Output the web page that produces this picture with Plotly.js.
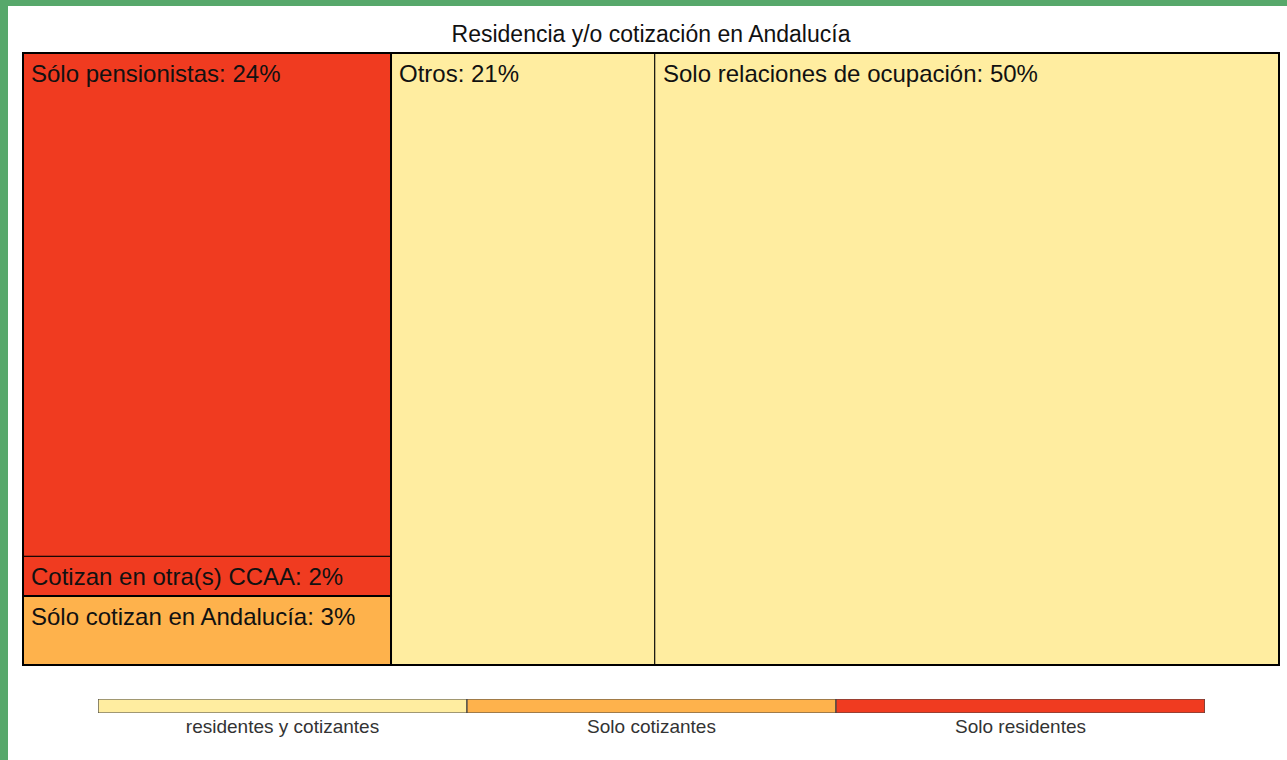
<!DOCTYPE html>
<html>
<head>
<meta charset="utf-8">
<script src="https://cdn.plot.ly/plotly-3.0.1.min.js"></script>
<style>
  html, body { margin: 0; padding: 0; background: #ffffff; }
  #frame { position: absolute; left: 0; top: 0; width: 1287px; height: 760px; }
  #greenTop { position: absolute; left: 0; top: 0; width: 1287px; height: 6px; background: #57a86b; }
  #greenLeft { position: absolute; left: 0; top: 0; width: 8px; height: 760px; background: #57a86b; }
  #chart { position: absolute; left: 8px; top: 6px; width: 1279px; height: 754px; }
</style>
</head>
<body>
<div id="frame">
  <div id="greenTop"></div>
  <div id="greenLeft"></div>
  <div id="chart"></div>
</div>
<script>
// cells of the treemap (% of total)
var cellLabels = ["Sólo pensionistas", "Cotizan en otra(s) CCAA", "Sólo cotizan en Andalucía", "Otros", "Solo relaciones de ocupación"];
var cellValues = [24.1, 1.9, 3.3, 21.0, 49.7];
var cellGroups = ["Solo residentes", "Solo residentes", "Solo cotizantes", "residentes y cotizantes", "residentes y cotizantes"];
// which column of the layout each cell sits in (top to bottom inside a column)
var cellColumn = [0, 0, 0, 1, 2];

// legend groups and colours
var groupNames = ["residentes y cotizantes", "Solo cotizantes", "Solo residentes"];
var groupColors = ["#FFEDA0", "#FEB24C", "#F03B20"];

var titleText = "Residencia y/o cotización en Andalucía";

// ---- build slice layout from the values ----
var nCols = Math.max.apply(null, cellColumn) + 1;
var colTotals = [];
for (var c = 0; c < nCols; c++) colTotals.push(0);
cellValues.forEach(function (v, i) { colTotals[cellColumn[i]] += v; });
var grand = colTotals.reduce(function (a, b) { return a + b; }, 0);

var colLeft = [], acc = 0;
colTotals.forEach(function (t) { colLeft.push(acc / grand * 100); acc += t; });

// cells stacked from the top of each column downward
var x0 = [], x1 = [], yTop = [], yBot = [];
var used = colTotals.map(function () { return 0; });
cellValues.forEach(function (v, i) {
  var c = cellColumn[i];
  var h = v / colTotals[c] * 100;
  x0.push(colLeft[c]);
  x1.push(colLeft[c] + colTotals[c] / grand * 100);
  yTop.push(100 - used[c]);
  yBot.push(100 - used[c] - h);
  used[c] += h;
});

var colorOf = function (g) { return groupColors[groupNames.indexOf(g)]; };

var cells = {
  type: 'bar',
  x: x0.map(function (a, i) { return (a + x1[i]) / 2; }),
  width: x0.map(function (a, i) { return x1[i] - a; }),
  base: yBot,
  y: yTop.map(function (t, i) { return t - yBot[i]; }),
  marker: { color: cellGroups.map(colorOf), line: { color: '#000000', width: 1 } },
  hoverinfo: 'none',
  xaxis: 'x', yaxis: 'y',
  showlegend: false
};

var legendBar = {
  type: 'bar',
  x: groupNames.map(function (g, i) { return i + 0.5; }),
  y: groupNames.map(function () { return 1; }),
  width: groupNames.map(function () { return 1; }),
  marker: { color: groupColors, line: { color: '#444444', width: 1.2 } },
  hoverinfo: 'none',
  xaxis: 'x2', yaxis: 'y2',
  showlegend: false
};

// labels at the top-left corner of each cell
var annotations = cellLabels.map(function (lab, i) {
  return {
    x: x0[i], y: yTop[i], xref: 'x', yref: 'y',
    xanchor: 'left', yanchor: 'top', xshift: 6, yshift: -5,
    showarrow: false, align: 'left',
    text: lab + ': ' + Math.round(cellValues[i]) + '%',
    font: { family: 'Liberation Sans, Arial, sans-serif', size: 24, color: '#111111' }
  };
});

// thick outlines around each colour group
var shapes = groupNames.map(function (g) {
  var gx0 = 1e9, gx1 = -1e9, gy0 = 1e9, gy1 = -1e9;
  cellGroups.forEach(function (cg, i) {
    if (cg !== g) return;
    gx0 = Math.min(gx0, x0[i]); gx1 = Math.max(gx1, x1[i]);
    gy0 = Math.min(gy0, yBot[i]); gy1 = Math.max(gy1, yTop[i]);
  });
  return { type: 'rect', xref: 'x', yref: 'y', x0: gx0, x1: gx1, y0: gy0, y1: gy1,
           line: { color: '#000000', width: 2 }, layer: 'above' };
});

var padX = 2 * 100 / 1256, padY = 2 * 100 / 612;

var layout = {
  width: 1279, height: 754,
  margin: { l: 13, r: 6, t: 45, b: 0 },
  paper_bgcolor: '#ffffff', plot_bgcolor: '#ffffff',
  barmode: 'overlay', bargap: 0,
  title: {
    text: titleText, x: 0.5, xref: 'paper', y: 1 - 28 / 754, yref: 'container', yanchor: 'middle',
    font: { family: 'Liberation Sans, Arial, sans-serif', size: 23, color: '#111111' }
  },
  xaxis: { range: [-padX, 100 + padX], visible: false, fixedrange: true, domain: [0, 1] },
  yaxis: { range: [-padY, 100 + padY], visible: false, fixedrange: true, domain: [0.1312, 1] },
  xaxis2: {
    anchor: 'y2', domain: [0.06111, 0.93968], range: [0, groupNames.length], fixedrange: true,
    showgrid: false, zeroline: false, showline: false, ticks: '',
    tickvals: groupNames.map(function (g, i) { return i + 0.5; }), ticktext: groupNames,
    tickfont: { family: 'Liberation Sans, Arial, sans-serif', size: 19, color: '#333333' }
  },
  yaxis2: { anchor: 'x2', domain: [0.06629, 0.08604], range: [0, 1], visible: false, fixedrange: true },
  annotations: annotations,
  shapes: shapes
};

Plotly.newPlot('chart', [cells, legendBar], layout, { displayModeBar: false, staticPlot: true });
</script>
</body>
</html>
